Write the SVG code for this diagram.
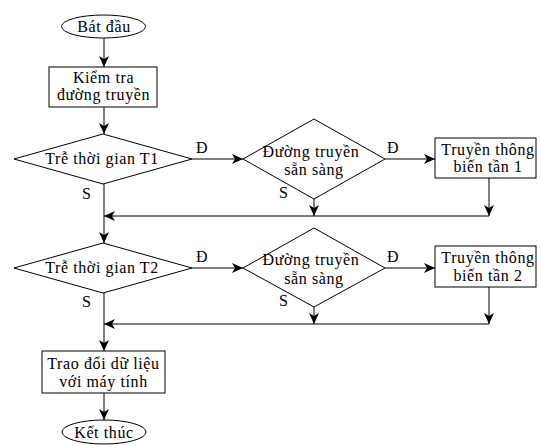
<svg xmlns="http://www.w3.org/2000/svg" width="540" height="445" viewBox="0 0 540 445">
<style>
.s{fill:#fff;stroke:#000;stroke-width:1}
text{font-family:'Liberation Serif','Times New Roman','DejaVu Serif',serif;font-size:16px;letter-spacing:0.6px;fill:#000}
.t{text-anchor:middle}
.c{fill:none;stroke:#000;stroke-width:1}
</style>
<defs>
<marker id="a" markerUnits="userSpaceOnUse" markerWidth="12" markerHeight="10" refX="11" refY="5" orient="auto" viewBox="0 0 12 10">
<path d="M0,0 L11,5 L0,10 L3,5 z" fill="#000"/>
</marker>
</defs>
<rect width="540" height="445" fill="#fff"/>
<g id="connectors">
<path class="c" d="M104,38 V67" marker-end="url(#a)"/>
<path class="c" d="M104,107 V134" marker-end="url(#a)"/>
<path class="c" d="M192,159 H243" marker-end="url(#a)"/>
<path class="c" d="M385,159 H435" marker-end="url(#a)"/>
<path class="c" d="M104,184 V243" marker-end="url(#a)"/>
<path class="c" d="M489,178 V216" marker-end="url(#a)"/>
<path class="c" d="M314,199 V216" marker-end="url(#a)"/>
<path class="c" d="M489,216 H104" marker-end="url(#a)"/>
<path class="c" d="M192,268 H243" marker-end="url(#a)"/>
<path class="c" d="M385,268 H435" marker-end="url(#a)"/>
<path class="c" d="M104,293 V351" marker-end="url(#a)"/>
<path class="c" d="M489,287 V324" marker-end="url(#a)"/>
<path class="c" d="M314,307 V324" marker-end="url(#a)"/>
<path class="c" d="M489,324 H104" marker-end="url(#a)"/>
<path class="c" d="M104,393 V420" marker-end="url(#a)"/>
<text x="196" y="153">Đ</text>
<text x="82" y="199">S</text>
<text x="387" y="153">Đ</text>
<text x="279" y="198">S</text>
<text x="196" y="262">Đ</text>
<text x="82" y="307">S</text>
<text x="387" y="262">Đ</text>
<text x="279" y="306">S</text>
</g>
<g id="start">
<ellipse class="s" cx="103.5" cy="26.5" rx="42" ry="11.5"/>
<text class="t" x="104" y="31.5">Bát đầu</text>
</g>
<g id="check">
<rect class="s" x="49" y="67" width="108" height="40"/>
<text class="t" x="103.5" y="83">Kiểm tra</text>
<text class="t" x="103.5" y="100">đường truyền</text>
</g>
<g id="delay1">
<polygon class="s" points="14,159 103,134 192,159 103,184"/>
<text class="t" x="102" y="164">Trễ thời gian T1</text>
</g>
<g id="ready1">
<polygon class="s" points="243,159 314,119 385,159 314,199"/>
<text class="t" x="311" y="157">Đường truyền</text>
<text class="t" x="314" y="175">sẵn sàng</text>
</g>
<g id="comm1">
<rect class="s" x="435" y="138" width="101" height="40"/>
<text class="t" x="488" y="155">Truyền thông</text>
<text class="t" x="488" y="172">biến tần 1</text>
</g>
<g id="delay2">
<polygon class="s" points="14,268 103,243 192,268 103,293"/>
<text class="t" x="102" y="273">Trễ thời gian T2</text>
</g>
<g id="ready2">
<polygon class="s" points="243,268 314,228 385,268 314,307"/>
<text class="t" x="311" y="265">Đường truyền</text>
<text class="t" x="314" y="284">sẵn sàng</text>
</g>
<g id="comm2">
<rect class="s" x="435" y="246" width="101" height="41"/>
<text class="t" x="488" y="263">Truyền thông</text>
<text class="t" x="488" y="281">biến tần 2</text>
</g>
<g id="exchange">
<rect class="s" x="42" y="351" width="123" height="42"/>
<text class="t" x="103.5" y="369">Trao đổi dữ liệu</text>
<text class="t" x="103.5" y="387">với máy tính</text>
</g>
<g id="end">
<ellipse class="s" cx="104" cy="432" rx="42" ry="12"/>
<text class="t" x="104" y="438">Kết thúc</text>
</g>
</svg>
